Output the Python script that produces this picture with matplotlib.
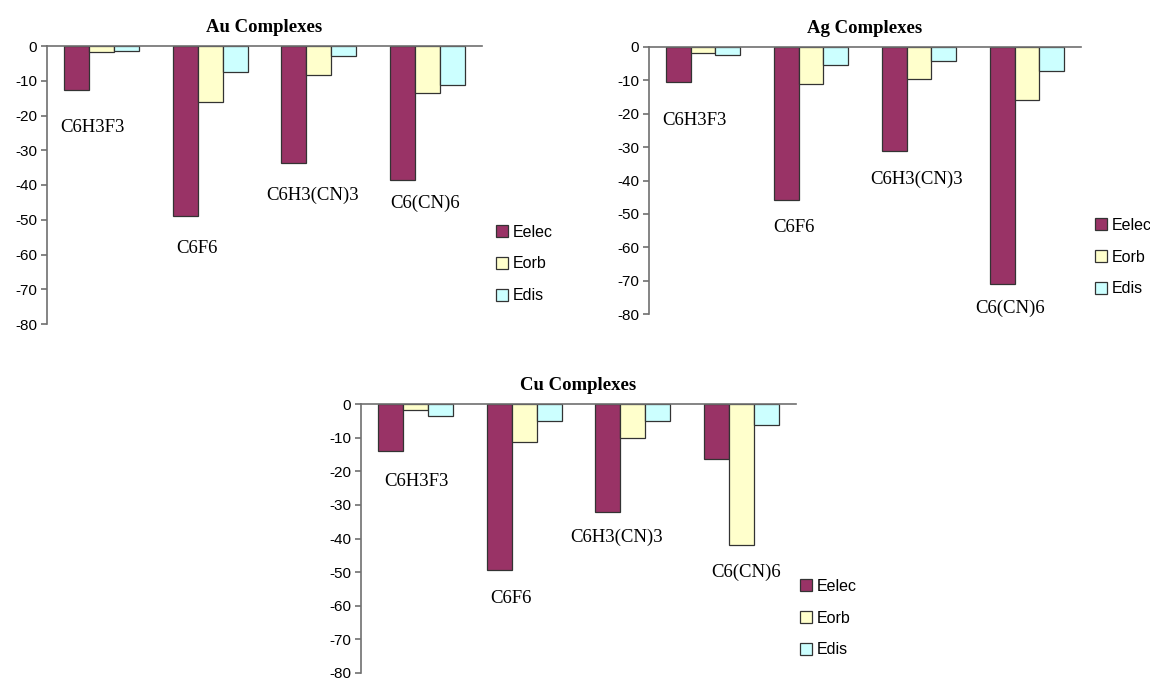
import numpy as np
import matplotlib
matplotlib.use('Agg')
import matplotlib.pyplot as plt

plt.rcParams['font.family'] = ['Liberation Sans', 'DejaVu Sans']
plt.rcParams['axes.unicode_minus'] = False

# data
molecules = ['C6H3F3', 'C6F6', 'C6H3(CN)3', 'C6(CN)6']
series = ['Eelec', 'Eorb', 'Edis']
colors = ['#993366', '#FFFFCC', '#CCFFFF']

au_elec = [-12.6, -48.9, -33.6, -38.7]
au_orb = [-1.8, -16.1, -8.4, -13.6]
au_dis = [-1.3, -7.6, -3.0, -11.1]

ag_elec = [-10.5, -45.7, -31.3, -71.0]
ag_orb = [-1.7, -11.0, -9.5, -15.9]
ag_dis = [-2.4, -5.4, -4.2, -7.1]

cu_elec = [-14.0, -49.5, -32.0, -16.3]
cu_orb = [-1.7, -11.3, -10.2, -41.9]
cu_dis = [-3.6, -5.1, -5.1, -6.1]

# where the molecule names sit inside each panel (x offset, y value)
au_lab_x = [-0.08, -0.12, -0.06, -0.02]
au_lab_y = [-23.4, -58.4, -43.0, -45.2]
ag_lab_x = [-0.08, -0.16, -0.02, -0.16]
ag_lab_y = [-22.0, -54.1, -39.7, -78.3]
cu_lab_x = [0.01, -0.12, -0.15, 0.04]
cu_lab_y = [-23.1, -57.8, -39.6, -50.0]

fig = plt.figure(figsize=(11.5, 6.8), dpi=100)

panels = [
    ('Au Complexes', [au_elec, au_orb, au_dis], au_lab_x, au_lab_y,
     [47 / 1150, 1 - 324 / 680, 435 / 1150, 278 / 680], (1.032, 0.216)),
    ('Ag Complexes', [ag_elec, ag_orb, ag_dis], ag_lab_x, ag_lab_y,
     [649 / 1150, 1 - 314 / 680, 432 / 1150, 267 / 680], (1.032, 0.213)),
    ('Cu Complexes', [cu_elec, cu_orb, cu_dis], cu_lab_x, cu_lab_y,
     [361 / 1150, 1 - 673 / 680, 435 / 1150, 269 / 680], (1.01, 0.204)),
]

x = np.arange(len(molecules))
w = 0.23

for title, vals, lx, ly, rect, leg_pos in panels:
    ax = fig.add_axes(rect)
    for k, s in enumerate(series):
        ax.bar(x + (k - 1) * w, vals[k], w, color=colors[k],
               edgecolor='#333333', linewidth=0.9, label=s)
    for i, m in enumerate(molecules):
        ax.text(i + lx[i], ly[i], m, ha='center', va='center',
                family='Liberation Serif', fontsize=13.5)
    ax.set_xlim(-0.5, 3.5)
    ax.set_ylim(-80, 0)
    ax.set_yticks(range(-80, 1, 10))
    ax.set_xticks([])
    for sp in ['right', 'bottom']:
        ax.spines[sp].set_visible(False)
    for sp in ['top', 'left']:
        ax.spines[sp].set_color('#707070')
        ax.spines[sp].set_linewidth(1.2)
    ax.tick_params(axis='y', direction='out', length=4, width=1.2,
                   color='#707070', labelsize=11, pad=3)
    ax.set_title(title, family='Liberation Serif', fontweight='bold',
                 fontsize=13.5, pad=10)
    ax.legend(loc='center left', bbox_to_anchor=leg_pos, frameon=False,
              fontsize=11.5, handlelength=0.75, handleheight=0.75,
              handletextpad=0.3, labelspacing=1.05, borderpad=0,
              borderaxespad=0)

fig.savefig('out.png', dpi=100)
